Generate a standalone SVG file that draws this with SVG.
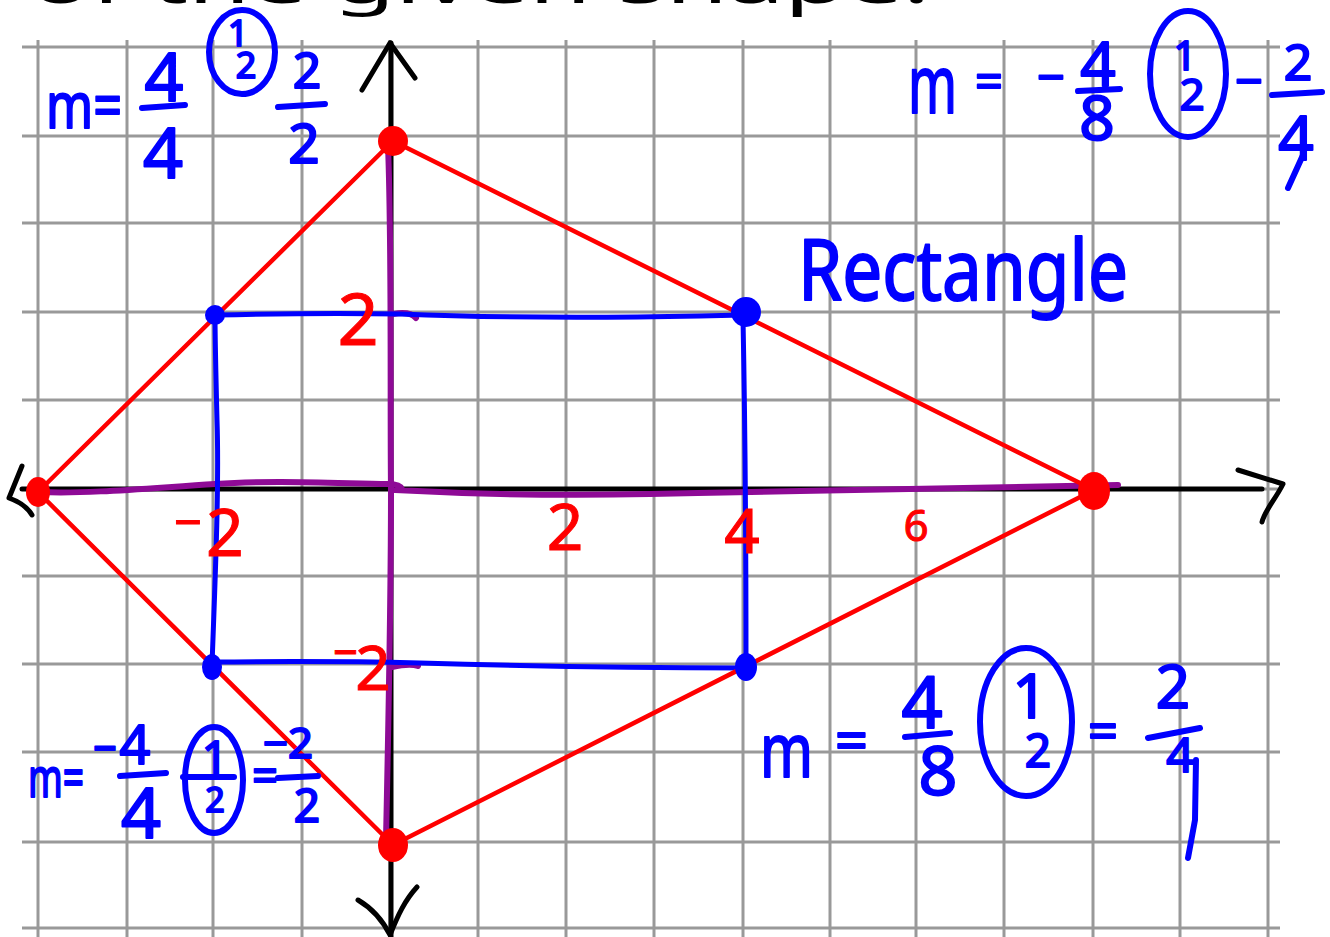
<svg xmlns="http://www.w3.org/2000/svg" width="1330" height="937" viewBox="0 0 1330 937">
<style>
.grid line{stroke:#999;stroke-width:3}
.axis{stroke:#000;stroke-width:5;fill:none;stroke-linecap:round;stroke-linejoin:round}
.purple{stroke:#8e0a96;stroke-width:6;fill:none;stroke-linecap:round;stroke-linejoin:round}
.blue{stroke:#0000ff;stroke-width:5;fill:none;stroke-linecap:round;stroke-linejoin:round}
.red{stroke:#ff0000;stroke-width:4.5;fill:none;stroke-linejoin:round}
.rdot{fill:#ff0000}
.bdot{fill:#0000ff}
.bt{font-family:"Noto Sans","DejaVu Sans",sans-serif;fill:#0000ff;stroke:#0000ff;stroke-width:2;stroke-linejoin:round}
.rt{font-family:"Noto Sans","DejaVu Sans",sans-serif;fill:#ff0000;stroke:#ff0000;stroke-width:1}
.kt{font-family:"Noto Sans","DejaVu Sans",sans-serif;fill:#000}
.mid{text-anchor:middle}
.bar{stroke:#0000ff;stroke-width:6;stroke-linecap:round;fill:none}
.ring{stroke:#0000ff;stroke-width:6;fill:none}
</style>
<rect width="1330" height="937" fill="#fff"/>
<g id="grid" class="grid">
<line x1="38" y1="40" x2="38" y2="937"/><line x1="127" y1="40" x2="127" y2="937"/><line x1="213" y1="40" x2="213" y2="937"/><line x1="302" y1="40" x2="302" y2="937"/><line x1="390" y1="40" x2="390" y2="937"/><line x1="478" y1="40" x2="478" y2="937"/><line x1="566" y1="40" x2="566" y2="937"/><line x1="654" y1="40" x2="654" y2="937"/><line x1="743" y1="40" x2="743" y2="937"/><line x1="830" y1="40" x2="830" y2="937"/><line x1="916" y1="40" x2="916" y2="937"/><line x1="1004" y1="40" x2="1004" y2="937"/><line x1="1093" y1="40" x2="1093" y2="937"/><line x1="1180" y1="40" x2="1180" y2="937"/><line x1="1268" y1="40" x2="1268" y2="937"/>
<line x1="22" y1="47" x2="1280" y2="47"/><line x1="22" y1="136" x2="1280" y2="136"/><line x1="22" y1="223" x2="1280" y2="223"/><line x1="22" y1="312" x2="1280" y2="312"/><line x1="22" y1="400" x2="1280" y2="400"/><line x1="22" y1="489" x2="1280" y2="489"/><line x1="22" y1="576" x2="1280" y2="576"/><line x1="22" y1="664" x2="1280" y2="664"/><line x1="22" y1="752" x2="1280" y2="752"/><line x1="22" y1="842" x2="1280" y2="842"/><line x1="22" y1="928" x2="1280" y2="928"/>
</g>
<g id="title"><text class="kt" x="30" y="3" font-size="56" textLength="900" lengthAdjust="spacingAndGlyphs">of the given shape.</text></g>
<g id="axes">
<path class="axis" d="M22,489 L1262,489"/>
<path class="axis" d="M391,43 L391,937"/>
<path class="axis" d="M362,90 L390,43 L415,78"/>
<path class="axis" d="M358,900 C375,910 385,925 390,935 C398,915 405,900 417,887"/>
<path class="axis" d="M22,466 L9,498 C20,502 28,508 32,515"/>
<path class="axis" d="M1238,470 L1283,484 C1275,500 1265,510 1262,522"/>
</g>
<g id="connectors">
<path class="purple" d="M40,492 C90,494 150,488 215,484 C270,480 330,483 388,484 Q400,484 402,489 M395,490 C470,494 560,496 650,494 C700,493 740,492 800,491 C900,490 1000,487 1118,485"/>
<path class="purple" d="M388,145 C392,250 390,400 391,490 C391,600 389,700 386,840 M393,314 Q410,311 416,318 M392,667 Q410,663 418,666"/>
<path class="blue" d="M215,315 C300,313 350,313 400,314 C500,318 600,318 700,316 L743,315 M743,318 C745,420 746,560 746,668 M746,668 C650,668 520,666 420,663 C380,662 300,661 212,662 M212,665 C216,560 219,480 217,420 C216,380 215,340 215,315"/>
<path class="red" d="M38,492 L393,141 L1094,490 L393,845 Z"/>
</g>
<g id="p-left"><ellipse class="rdot" cx="38" cy="492" rx="12" ry="15"/></g>
<g id="p-top"><circle class="rdot" cx="393" cy="141" r="15"/></g>
<g id="p-right"><ellipse class="rdot" cx="1094" cy="491" rx="16" ry="19"/></g>
<g id="p-bottom"><ellipse class="rdot" cx="393" cy="845" rx="15" ry="17"/></g>
<g id="b-tl"><circle class="bdot" cx="215" cy="315" r="10"/></g>
<g id="b-tr"><circle class="bdot" cx="746" cy="312" r="15"/></g>
<g id="b-bl"><ellipse class="bdot" cx="212" cy="667" rx="10" ry="13"/></g>
<g id="b-br"><ellipse class="bdot" cx="746" cy="667" rx="11" ry="14"/></g>
<g id="axis-labels">
<text class="rt mid" x="358" y="345" font-size="72">2</text>
<text class="rt" x="174" y="540" font-size="50" textLength="28" lengthAdjust="spacingAndGlyphs">−</text>
<text class="rt mid" x="225" y="556" font-size="66">2</text>
<text class="rt mid" x="565" y="550" font-size="64">2</text>
<text class="rt mid" x="742" y="553" font-size="62">4</text>
<text class="rt mid" x="916" y="541" font-size="44">6</text>
<text class="rt" x="333" y="670" font-size="50" textLength="25" lengthAdjust="spacingAndGlyphs">−</text>
<text class="rt mid" x="373" y="690" font-size="62">2</text>
</g>
<g id="slope-tl">
<text class="bt" x="46" y="128" font-size="64" textLength="76" lengthAdjust="spacingAndGlyphs">m=</text>
<text class="bt mid" x="164" y="101" font-size="68">4</text>
<line class="bar" x1="142" y1="108" x2="185" y2="105"/>
<text class="bt mid" x="163" y="178" font-size="70">4</text>
<ellipse class="ring" cx="242" cy="52" rx="33" ry="42"/>
<text class="bt mid" x="238" y="46" font-size="36">1</text>
<text class="bt mid" x="246" y="78" font-size="36">2</text>
<text class="bt mid" x="307" y="88" font-size="50">2</text>
<line class="bar" x1="278" y1="107" x2="325" y2="104"/>
<text class="bt mid" x="304" y="163" font-size="55">2</text>
</g>
<g id="slope-tr">
<text class="bt" x="908" y="113" font-size="80" textLength="49" lengthAdjust="spacingAndGlyphs">m</text>
<text class="bt" x="975" y="99" font-size="50" textLength="28" lengthAdjust="spacingAndGlyphs">=</text>
<text class="bt" x="1037" y="95" font-size="50" textLength="28" lengthAdjust="spacingAndGlyphs">−</text>
<text class="bt mid" x="1098" y="86" font-size="62">4</text>
<line class="bar" x1="1078" y1="91" x2="1120" y2="89"/>
<text class="bt mid" x="1097" y="140" font-size="62">8</text>
<ellipse class="ring" cx="1188" cy="74" rx="38" ry="63"/>
<text class="bt mid" x="1185" y="70" font-size="40">1</text>
<text class="bt mid" x="1192" y="110" font-size="44">2</text>
<text class="bt" x="1235" y="99" font-size="50" textLength="28" lengthAdjust="spacingAndGlyphs">−</text>
<text class="bt mid" x="1298" y="80" font-size="50">2</text>
<line class="bar" x1="1272" y1="95" x2="1322" y2="92"/>
<text class="bt mid" x="1296" y="160" font-size="62">4</text>
<path class="bar" d="M1303,155 L1288,188"/>
</g>
<g id="rect-label"><text class="bt" x="798" y="300" font-size="84" textLength="330" lengthAdjust="spacingAndGlyphs">Rectangle</text></g>
<g id="slope-bl">
<text class="bt" x="28" y="797" font-size="54" textLength="56" lengthAdjust="spacingAndGlyphs">m=</text>
<text class="bt" x="93" y="765" font-size="48" textLength="24" lengthAdjust="spacingAndGlyphs">−</text>
<text class="bt mid" x="135" y="764" font-size="54">4</text>
<line class="bar" x1="120" y1="776" x2="166" y2="773"/>
<text class="bt mid" x="141" y="838" font-size="70">4</text>
<ellipse class="ring" cx="214" cy="780" rx="29" ry="53"/>
<line class="bar" x1="183" y1="777" x2="234" y2="777"/>
<text class="bt mid" x="215" y="774" font-size="46">1</text>
<text class="bt mid" x="215" y="812" font-size="34">2</text>
<text class="bt" x="252" y="792" font-size="48" textLength="26" lengthAdjust="spacingAndGlyphs">=</text>
<text class="bt" x="263" y="758" font-size="42" textLength="50" lengthAdjust="spacingAndGlyphs">−2</text>
<line class="bar" x1="278" y1="778" x2="318" y2="776"/>
<text class="bt mid" x="307" y="822" font-size="46">2</text>
</g>
<g id="slope-br">
<text class="bt" x="760" y="777" font-size="74" textLength="53" lengthAdjust="spacingAndGlyphs">m</text>
<text class="bt" x="835" y="760" font-size="56" textLength="33" lengthAdjust="spacingAndGlyphs">=</text>
<text class="bt mid" x="922" y="728" font-size="72">4</text>
<line class="bar" x1="905" y1="737" x2="950" y2="733"/>
<text class="bt mid" x="938" y="795" font-size="68">8</text>
<ellipse class="ring" cx="1026" cy="722" rx="46" ry="74"/>
<text class="bt mid" x="1030" y="718" font-size="62">1</text>
<text class="bt mid" x="1038" y="767" font-size="46">2</text>
<text class="bt" x="1088" y="750" font-size="52" textLength="30" lengthAdjust="spacingAndGlyphs">=</text>
<text class="bt mid" x="1173" y="708" font-size="60">2</text>
<line class="bar" x1="1148" y1="738" x2="1200" y2="728"/>
<text class="bt mid" x="1180" y="772" font-size="48">4</text>
<path class="bar" d="M1196,760 L1195,820 L1188,858"/>
</g>
</svg>
